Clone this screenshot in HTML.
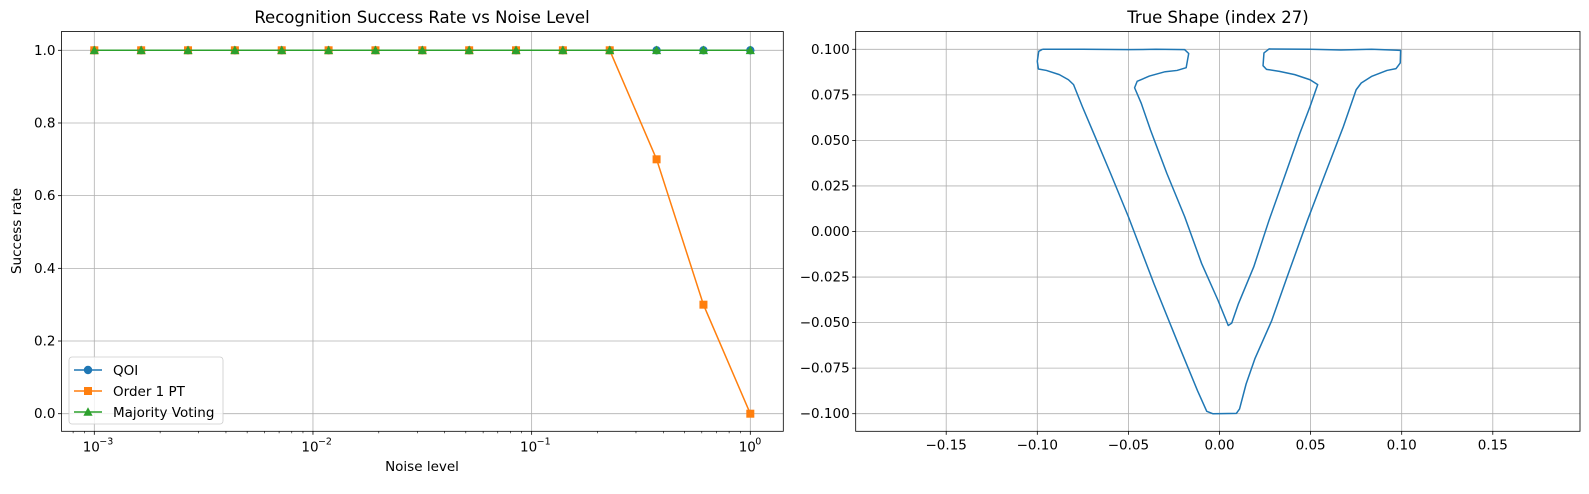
<!DOCTYPE html>
<html><head><meta charset="utf-8"><style>
body{margin:0;background:#fff;}
svg text{font-family:"DejaVu Sans","Liberation Sans",sans-serif;fill:#000;}
</style></head><body>
<svg id="fig" width="1589" height="489" xmlns="http://www.w3.org/2000/svg">
<rect width="1589" height="489" fill="#fff"/>
<g id="left"></g>
<g id="right"></g>
</svg>
<script>
const noiseLevels=[0.001,0.001638,0.002683,0.004394,0.007197,0.011788,0.019307,0.031623,0.051795,0.084834,0.138950,0.227585,0.372759,0.610540,1.0];
const qoiRate=[1,1,1,1,1,1,1,1,1,1,1,1,1,1,1];
const pt1Rate=[1,1,1,1,1,1,1,1,1,1,1,1,0.7,0.3,0.0];
const mvRate=[1,1,1,1,1,1,1,1,1,1,1,1,1,1,1];
const yTicksL=[0,0.2,0.4,0.6,0.8,1.0];
const xTickExps=[-3,-2,-1,0];
const shapeX=[-0.0972,-0.075,-0.05,-0.035,-0.0191,-0.0169,-0.0183,-0.0233,-0.0298,-0.0385,-0.0452,-0.0466,-0.043,-0.0379,-0.0289,-0.0191,-0.0098,-0.0008,0.0048,0.0067,0.0104,0.0188,0.0272,0.0357,0.0441,0.0497,0.0539,0.0497,0.0413,0.0329,0.0258,0.0239,0.0244,0.0272,0.0497,0.0666,0.0834,0.0994,0.0992,0.0969,0.0919,0.0834,0.0778,0.075,0.068,0.0581,0.0483,0.0371,0.0287,0.0194,0.0146,0.011,0.0093,-0.0037,-0.007,-0.0121,-0.0219,-0.036,-0.05,-0.0598,-0.0683,-0.0753,-0.0801,-0.0829,-0.0879,-0.095,-0.0994,-0.1,-0.0992,-0.0972];
const shapeY=[0.1,0.1,0.0998,0.1,0.0998,0.0977,0.0899,0.0884,0.0877,0.0853,0.0824,0.0789,0.0705,0.0558,0.0319,0.0081,-0.0176,-0.0378,-0.0516,-0.0503,-0.0396,-0.0194,0.0062,0.0301,0.0539,0.0686,0.0806,0.0833,0.0861,0.0879,0.089,0.091,0.098,0.1002,0.1,0.0996,0.1,0.0994,0.0925,0.0894,0.0884,0.0851,0.0815,0.0778,0.0576,0.0319,0.0062,-0.025,-0.0488,-0.0699,-0.0837,-0.0974,-0.0998,-0.1,-0.0987,-0.0873,-0.0635,-0.0286,0.0081,0.0319,0.0521,0.0686,0.0806,0.0833,0.0861,0.0884,0.0892,0.0934,0.0989,0.1];
const xTicksR=[-0.15,-0.10,-0.05,0.00,0.05,0.10,0.15];
const yTicksR=[-0.100,-0.075,-0.050,-0.025,0.000,0.025,0.050,0.075,0.100];

const NS='http://www.w3.org/2000/svg';
function mk(tag,attrs,parent,txt){const e=document.createElementNS(NS,tag);for(const k in attrs)e.setAttribute(k,attrs[k]);if(txt!==undefined)e.textContent=txt;parent.appendChild(e);return e;}
const fmt=v=>(v<0?'\u2212':'')+Math.abs(v);

// LEFT
const L=document.getElementById('left');
const lx=v=>94.3+(Math.log10(v)+3)*218.67;
const ly=v=>413.7-v*363.4;
const LB={x0:61.5,x1:783.3,y0:31.5,y1:431.3};
yTicksL.forEach(t=>{
 const g=mk('line',{x1:LB.x0,x2:LB.x1,y1:ly(t),y2:ly(t),stroke:'#b0b0b0','stroke-width':0.8},L);
 
 mk('line',{x1:LB.x0-3.5,x2:LB.x0,y1:ly(t),y2:ly(t),stroke:'#000','stroke-width':0.8},L);
 const tx=mk('text',{x:LB.x0-6,y:ly(t)+4.5,'font-size':13.5,'text-anchor':'end'},L,t.toFixed(1));
 
});
xTickExps.forEach(e=>{
 const x=lx(Math.pow(10,e));
 const g=mk('line',{x1:x,x2:x,y1:LB.y0,y2:LB.y1,stroke:'#b0b0b0','stroke-width':0.8},L);
 
 mk('line',{x1:x,x2:x,y1:LB.y1,y2:LB.y1+3.5,stroke:'#000','stroke-width':0.8},L);
 const t=mk('text',{x:x-3,y:LB.y1+20,'font-size':13.5,'text-anchor':'middle'},L,'10');
 
 mk('text',{x:x+5,y:LB.y1+13,'font-size':9.5,'text-anchor':'start'},L,e<0?'\u2212'+(-e):String(e));
});
for(let e=-4;e<=0;e++)for(let m=2;m<=9;m++){const v=m*Math.pow(10,e);const x=lx(v);if(x>LB.x0&&x<LB.x1)mk('line',{x1:x,x2:x,y1:LB.y1,y2:LB.y1+2,stroke:'#000','stroke-width':0.6},L);}
function series(vals,color,marker,name){
 const g=mk('g',{},L);
 mk('polyline',{points:vals.map((v,i)=>lx(noiseLevels[i])+','+ly(v)).join(' '),fill:'none',stroke:color,'stroke-width':1.5},g);
 vals.forEach((v,i)=>drawMarker(g,lx(noiseLevels[i]),ly(v),color,marker));
}
function drawMarker(g,x,y,c,m){
 if(m==='o')mk('circle',{cx:x,cy:y,r:4.2,fill:c},g);
 else if(m==='s')mk('rect',{x:x-4,y:y-4,width:8,height:8,fill:c},g);
 else mk('polygon',{points:`${x},${y-4.8} ${x+4.6},${y+3.8} ${x-4.6},${y+3.8}`,fill:c},g);
}
series(qoiRate,'#1f77b4','o','series-qoi');
series(pt1Rate,'#ff7f0e','s','series-order1-pt');
series(mvRate,'#2ca02c','^','series-majority-voting');
mk('rect',{x:LB.x0,y:LB.y0,width:LB.x1-LB.x0,height:LB.y1-LB.y0,fill:'none',stroke:'#000','stroke-width':0.8},L);
let t=mk('text',{x:422,y:23,'font-size':16.5,'text-anchor':'middle'},L,'Recognition Success Rate vs Noise Level');

t=mk('text',{x:422,y:471,'font-size':13.5,'text-anchor':'middle'},L,'Noise level');

t=mk('text',{x:0,y:0,'font-size':13.5,'text-anchor':'middle',transform:'translate(21,231) rotate(-90)'},L,'Success rate');

const lg=mk('g',{},L);
mk('rect',{x:69,y:357,width:154,height:67,rx:3,fill:'#fff','fill-opacity':0.8,stroke:'#ccc','stroke-width':0.8},lg);
[['QOI','#1f77b4','o',370],['Order 1 PT','#ff7f0e','s',391],['Majority Voting','#2ca02c','^',412]].forEach(([n,c,m,y])=>{
 const e=mk('g',{},lg);
 mk('line',{x1:74,x2:102,y1:y,y2:y,stroke:c,'stroke-width':1.5},e);
 drawMarker(e,88,y,c,m);
 mk('text',{x:113,y:y+5,'font-size':13.5},e,n);
});

// RIGHT
const R=document.getElementById('right');
const rx=v=>1219.5+v*1822;
const ry=v=>231.5-v*1822;
const RB={x0:855.7,x1:1580,y0:31.5,y1:431.3};
yTicksR.forEach(v=>{
 const g=mk('line',{x1:RB.x0,x2:RB.x1,y1:ry(v),y2:ry(v),stroke:'#b0b0b0','stroke-width':0.8},R);
 
 mk('line',{x1:RB.x0-3.5,x2:RB.x0,y1:ry(v),y2:ry(v),stroke:'#000','stroke-width':0.8},R);
 const tx=mk('text',{x:RB.x0-6,y:ry(v)+4.5,'font-size':13.5,'text-anchor':'end'},R,(v<0?'\u2212':'')+Math.abs(v).toFixed(3));
 
});
xTicksR.forEach(v=>{
 const g=mk('line',{x1:rx(v),x2:rx(v),y1:RB.y0,y2:RB.y1,stroke:'#b0b0b0','stroke-width':0.8},R);
 
 mk('line',{x1:rx(v),x2:rx(v),y1:RB.y1,y2:RB.y1+3.5,stroke:'#000','stroke-width':0.8},R);
 const tx=mk('text',{x:rx(v),y:RB.y1+18,'font-size':13.5,'text-anchor':'middle'},R,(v<0?'\u2212':'')+Math.abs(v).toFixed(2));
 
});
const sp=mk('polyline',{points:shapeX.map((x,i)=>rx(x)+','+ry(shapeY[i])).join(' '),fill:'none',stroke:'#1f77b4','stroke-width':1.5,'stroke-linejoin':'round'},R);

mk('rect',{x:RB.x0,y:RB.y0,width:RB.x1-RB.x0,height:RB.y1-RB.y0,fill:'none',stroke:'#000','stroke-width':0.8},R);
t=mk('text',{x:1218,y:23,'font-size':16.5,'text-anchor':'middle'},R,'True Shape (index 27)');

</script>
</body></html>
